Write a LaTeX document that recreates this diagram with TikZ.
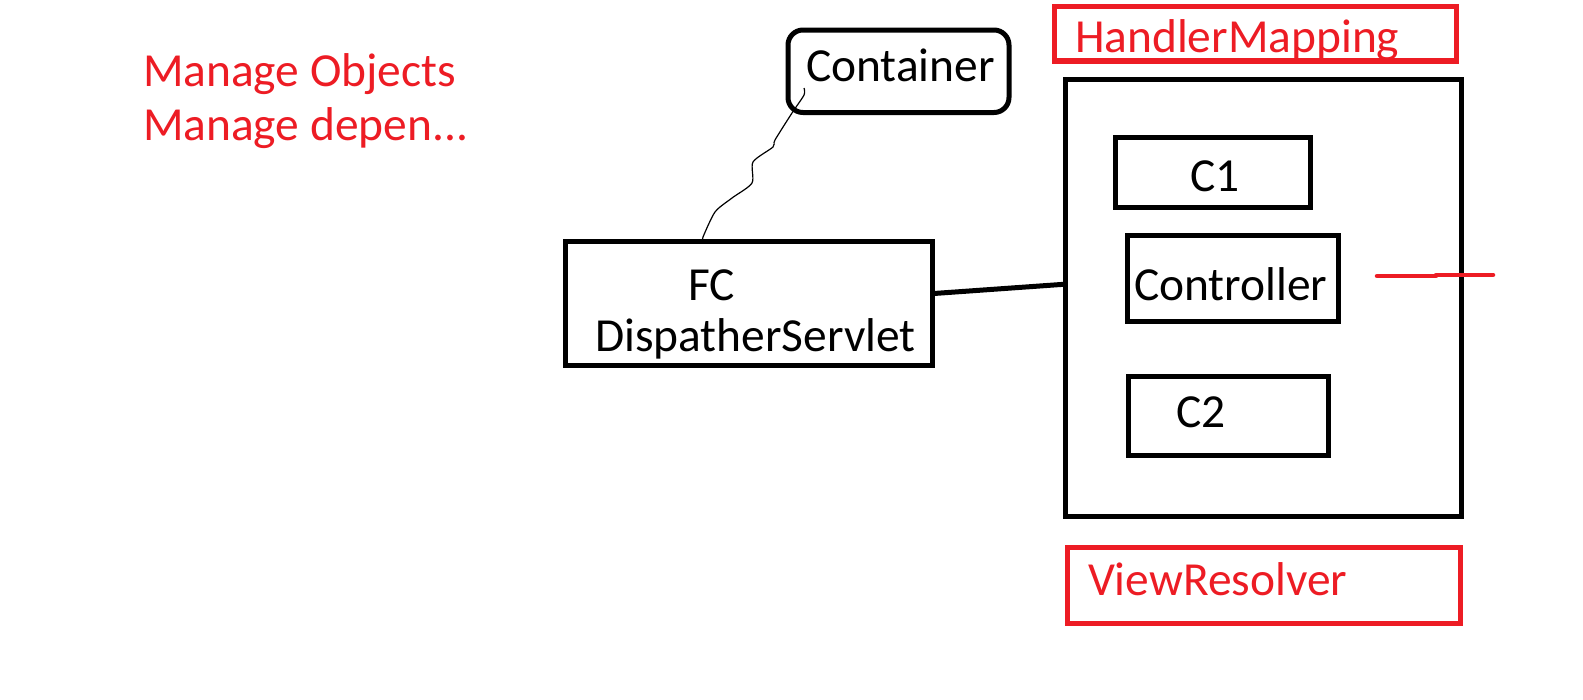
\documentclass[tikz,border=0pt]{standalone}
\usepackage{fontspec}
\setmainfont{Carlito}
\newlength\pxl
\setlength\pxl{0.02cm}
\definecolor{pred}{RGB}{237,28,36}
\tikzset{
  blkbox/.style={draw=black, line width=5\pxl, rectangle, inner sep=0pt, outer sep=0pt},
  redbox/.style={draw=pred, line width=5.5\pxl, rectangle, inner sep=0pt, outer sep=0pt},
  lbl/.style={anchor=base west, inner sep=0pt, outer sep=0pt, font=\fontsize{27pt}{32pt}\selectfont, text=black},
  redlbl/.style={lbl, text=pred},
  thickline/.style={draw=black, line width=5\pxl},
  redline/.style={draw=pred, line width=4.5\pxl, line cap=round},
  wavy/.style={draw=black, line width=1.2\pxl}
}
\begin{document}
\begin{tikzpicture}[x=0.02cm, y=-0.02cm]
\useasboundingbox (0,0) rectangle (1583,700);
\fill[white] (0,0) rectangle (1583,700);

% boxes
\node[blkbox, rounded corners=15\pxl, minimum width=221\pxl, minimum height=82.5\pxl] (cont) at (898.5,71.25) {};
\node[blkbox, minimum width=367\pxl, minimum height=124.5\pxl] (fc) at (748.5,303.25) {};
\node[blkbox, minimum width=395.5\pxl, minimum height=437\pxl] (big) at (1263.25,298) {};
\node[blkbox, minimum width=194.5\pxl, minimum height=70\pxl] (c1) at (1212.75,172) {};
\node[blkbox, minimum width=211.5\pxl, minimum height=86\pxl] (ctrl) at (1232.75,278.5) {};
\node[blkbox, minimum width=200\pxl, minimum height=79.5\pxl] (c2) at (1228.5,415.75) {};
\node[redbox, minimum width=402\pxl, minimum height=54.5\pxl] (hm) at (1255.5,33.75) {};
\node[redbox, minimum width=393\pxl, minimum height=76\pxl] (vr) at (1264,585.5) {};

% texts
\node[redlbl] (t1) at (143,86) {Manage Objects};
\node[redlbl] (t2) at (143,140) {Manage depen...};
\node[lbl] (tcont) at (806,81.7) {Container};
\node[lbl] (tfc) at (688,300.7) {FC};
\node[lbl] (tds) at (595,351.7) {DispatherServlet};
\node[redlbl] (thm) at (1075,52) {HandlerMapping};
\node[lbl] (tc1) at (1190,191) {C1};
\node[lbl] (tctrl) at (1134,300) {Controller};
\node[lbl] (tc2) at (1176,427) {C2};
\node[redlbl] (tvr) at (1088,595) {ViewResolver};

% connectors
\draw[thickline] (fc.3) -- (big.176);

\coordinate (wstart) at (804,88);
\draw[wavy] plot[smooth, tension=0.45] coordinates {(wstart) (804,95) (792,113) (775,140) (773,147) (753,162) (752,183) (732,198) (715,212) (703,237)} -- ([xshift=137\pxl]fc.north west);

\coordinate (ra) at (1377,276);
\coordinate (rb) at (1436,276);
\coordinate (rc) at (1436,275);
\coordinate (rd) at (1493,275);
\draw[redline] (ra) -- (rb) (rc) -- (rd);
\end{tikzpicture}
\end{document}
